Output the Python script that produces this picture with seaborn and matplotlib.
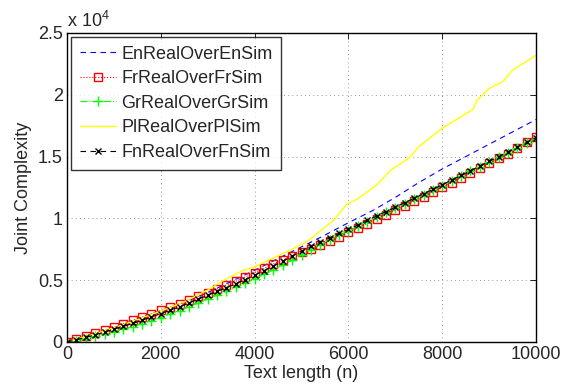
import numpy as np
import pandas as pd
import seaborn as sns
from matplotlib import pyplot as plt
from matplotlib.ticker import FuncFormatter

# Text length (n) for the marker series (step 200)
n_dense = list(range(0, 10001, 200))

# Joint complexity, in thousands
fr_vals = [0.00, 0.27, 0.48, 0.70, 0.94, 1.20, 1.48, 1.75, 2.02, 2.28,
           2.55, 2.83, 3.11, 3.40, 3.70, 4.00, 4.30, 4.61, 4.93, 5.26,
           5.60, 5.95, 6.32, 6.62, 6.95, 7.30, 7.52, 7.85, 8.18, 8.53,
           8.86, 9.22, 9.58, 9.94, 10.30, 10.66, 11.02, 11.38, 11.74, 12.10,
           12.50, 12.90, 13.30, 13.68, 14.06, 14.46, 14.86, 15.24, 15.70, 16.16,
           16.62]
gr_vals = [0.00, 0.10, 0.27, 0.46, 0.64, 0.83, 1.02, 1.24, 1.47, 1.72,
           1.98, 2.25, 2.54, 2.84, 3.15, 3.47, 3.79, 4.10, 4.42, 4.75,
           5.10, 5.46, 5.84, 6.22, 6.63, 7.06, 7.47, 7.86, 8.24, 8.62,
           8.98, 9.36, 9.74, 10.12, 10.48, 10.84, 11.20, 11.56, 11.92, 12.28,
           12.66, 13.04, 13.42, 13.80, 14.18, 14.56, 14.94, 15.32, 15.70, 16.08,
           16.46]
fn_vals = [0.00, 0.18, 0.37, 0.58, 0.80, 1.03, 1.26, 1.50, 1.76, 2.02,
           2.30, 2.58, 2.86, 3.16, 3.47, 3.78, 4.09, 4.40, 4.72, 5.05,
           5.40, 5.77, 6.15, 6.53, 6.95, 7.36, 7.73, 8.08, 8.43, 8.78,
           9.12, 9.47, 9.84, 10.20, 10.55, 10.92, 11.28, 11.63, 11.99, 12.35,
           12.72, 13.10, 13.47, 13.85, 14.23, 14.62, 15.00, 15.38, 15.76, 16.14,
           16.52]

n_en = list(range(0, 10001, 500))
en_vals = [0.0, 0.5, 1.1, 1.75, 2.45, 3.2, 4.0, 4.9, 5.8, 6.75, 7.7,
           8.65, 9.65, 10.6, 11.7, 12.9, 14.0, 15.0, 16.0, 17.0, 18.0]

n_pl = [0, 500, 1000, 1500, 2000, 2500, 3000, 3300, 3700, 4000, 4400, 4800,
        5100, 5250, 5500, 5700, 5950, 6200, 6350, 6600, 6900, 7300, 7500,
        7700, 8000, 8300, 8650, 8750, 9000, 9300, 9500, 9750, 10000]
pl_vals = [0.0, 0.55, 1.15, 1.8, 2.5, 3.25, 4.2, 4.9, 5.7, 6.1, 6.8, 7.5,
           8.1, 8.5, 9.3, 9.9, 11.1, 11.6, 12.0, 12.7, 13.9, 14.9, 15.8,
           16.4, 17.3, 18.0, 18.8, 19.6, 20.5, 21.1, 22.0, 22.6, 23.2]

sns.set_theme(style="white")
plt.rcParams["font.family"] = ["Liberation Sans", "DejaVu Sans"]
plt.rcParams["mathtext.fontset"] = "custom"
plt.rcParams["mathtext.rm"] = "Liberation Sans"

fig = plt.figure(figsize=(5.74, 3.88), dpi=100)
ax = fig.add_axes([0.1167, 0.1186, 0.8173, 0.7964])

sns.lineplot(x=n_en, y=en_vals, ax=ax, color="#0000ff", linestyle=(0, (5, 4)),
             linewidth=0.8, label="EnRealOverEnSim")
sns.lineplot(x=n_dense, y=fr_vals, ax=ax, color="#ff0000", linestyle=":",
             linewidth=0.8, marker="s", markersize=5.5, markerfacecolor="none",
             markeredgecolor="#ff0000", markeredgewidth=1.0, label="FrRealOverFrSim")
sns.lineplot(x=n_dense, y=gr_vals, ax=ax, color="#00ff00", linestyle="-.",
             linewidth=0.8, marker="+", markersize=6.5, markeredgecolor="#00ff00",
             markeredgewidth=1.0, label="GrRealOverGrSim")
sns.lineplot(x=n_pl, y=pl_vals, ax=ax, color="#ffff00", linestyle="-",
             linewidth=1.0, label="PlRealOverPlSim")
sns.lineplot(x=n_dense, y=fn_vals, ax=ax, color="black", linestyle=(0, (5, 4)),
             linewidth=0.8, marker="x", markersize=4, markeredgecolor="black",
             markeredgewidth=1.0, label="FnRealOverFnSim")

ax.set_xlim(0, 10000)
ax.set_ylim(0, 25)
ax.set_xticks(range(0, 10001, 2000))
ax.set_yticks([0, 5, 10, 15, 20, 25])
ax.yaxis.set_major_formatter(FuncFormatter(lambda v, p: "%g" % (v / 10)))

ax.grid(True, color="#777777", linestyle=(0, (1, 4)), linewidth=0.6)
ax.tick_params(direction="in", length=4, width=0.6, top=True, right=True,
               labelsize=13, pad=3, color="black")
for s in ax.spines.values():
    s.set_color("black")
    s.set_linewidth(1.0)

ax.set_xlabel("Text length (n)", fontsize=13, labelpad=1)
ax.set_ylabel("Joint Complexity", fontsize=13, labelpad=4)
ax.text(0.0, 1.005, r"x 10$^{4}$", transform=ax.transAxes, fontsize=13,
        ha="left", va="bottom")

leg = ax.legend(loc="upper left", fontsize=13, frameon=True, fancybox=False,
                borderaxespad=0.2, labelspacing=0.42, handlelength=2.0,
                handletextpad=0.3, borderpad=0.5)
leg.get_frame().set_edgecolor("black")
leg.get_frame().set_linewidth(1.0)

plt.savefig("out.png", dpi=100)
